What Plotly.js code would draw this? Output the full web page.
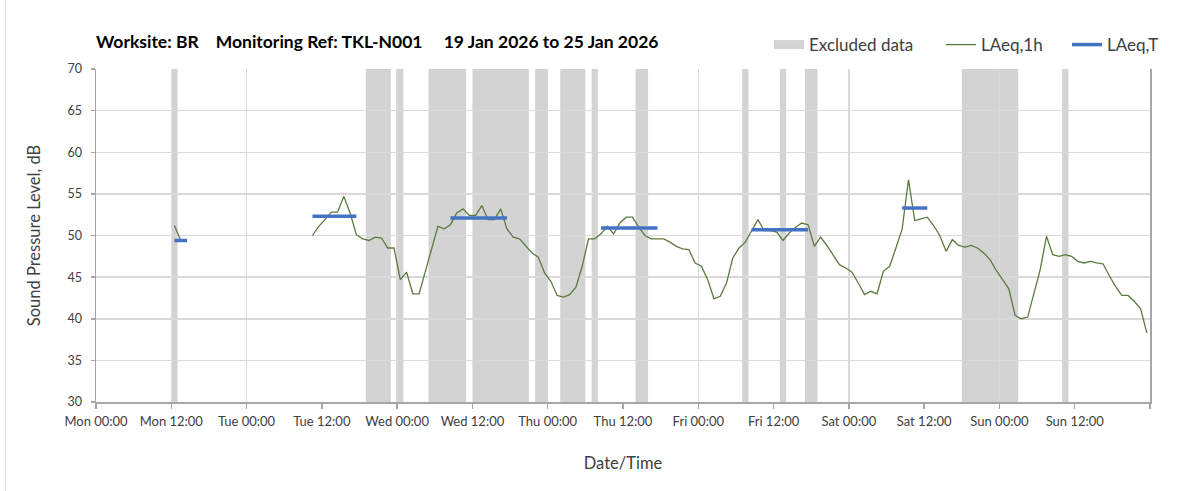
<!DOCTYPE html>
<html>
<head>
<meta charset="utf-8">
<script src="https://cdn.plot.ly/plotly-3.0.1.min.js"></script>
<style>
  html, body { margin: 0; padding: 0; background: #ffffff; }
  #chart { width: 1203px; height: 491px; }
</style>
</head>
<body>
<div id="chart"></div>
<script>
// ---------- DATA (hours since Mon 19 Jan 2026 00:00) ----------
const tickHours = [0, 12, 24, 36, 48, 60, 72, 84, 96, 108, 120, 132, 144, 156, 168];
const tickLabels = ['Mon 00:00', 'Mon 12:00', 'Tue 00:00', 'Tue 12:00', 'Wed 00:00', 'Wed 12:00',
  'Thu 00:00', 'Thu 12:00', 'Fri 00:00', 'Fri 12:00', 'Sat 00:00', 'Sat 12:00',
  'Sun 00:00', 'Sun 12:00', ''];
const gridHours = [0, 24, 48, 72, 96, 120, 144, 168];

// Excluded data periods (start / end hour)
const excludedStart = [12, 43, 48, 53, 60, 70, 74, 79, 86, 103, 109, 113, 138, 154];
const excludedEnd   = [13, 47, 49, 59, 69, 72, 78, 80, 88, 104, 110, 115, 147, 155];

// LAeq,1h — hourly values (plotted at mid-hour)
const mondayStartHour = 12.5;
const mondayValues = [51.2, 49.4, 49.4];
const mainStartHour = 34.5;
const mainValues = [
  50.0, 51.1, 51.9, 52.8, 52.8, 54.7, 52.7, 50.1, 49.6, 49.4, 49.8, 49.7, 48.5, 48.5,
  44.7, 45.6, 43.0, 43.0, 45.7, 48.4, 51.1, 50.8, 51.3, 52.7, 53.2, 52.4, 52.4, 53.6,
  51.9, 51.9, 53.2, 50.8, 49.8, 49.6, 48.8, 47.9, 47.4, 45.5, 44.5, 42.8, 42.6, 42.9,
  43.8, 46.3, 49.6, 49.6, 50.2, 51.1, 50.2, 51.5, 52.2, 52.2, 51.0, 50.0, 49.6, 49.6,
  49.6, 49.2, 48.7, 48.4, 48.3, 46.7, 46.3, 44.7, 42.4, 42.7, 44.3, 47.3, 48.5, 49.2,
  50.6, 51.9, 50.6, 50.6, 50.4, 49.4, 50.3, 51.0, 51.5, 51.3, 48.7, 49.8, 48.8, 47.7,
  46.5, 46.1, 45.6, 44.3, 42.9, 43.3, 43.0, 45.7, 46.3, 48.5, 50.8, 56.7, 51.8, 52.0,
  52.2, 51.2, 50.0, 48.1, 49.5, 48.8, 48.6, 48.8, 48.5, 47.9, 47.1, 45.8, 44.7, 43.6,
  40.4, 40.0, 40.2, 43.1, 45.9, 49.9, 47.7, 47.5, 47.7, 47.5, 46.9, 46.7, 46.9, 46.7,
  46.6, 45.2, 43.9, 42.8, 42.8, 42.1, 41.2, 38.3
];

// LAeq,T — period values
const laeqTStart = [12.5, 34.5, 56.5, 80.5, 104.5, 128.5];
const laeqTEnd   = [14.5, 41.5, 65.5, 89.5, 113.5, 132.5];
const laeqTValue = [49.4, 52.3, 52.1, 50.9, 50.7, 53.3];

// ---------- BUILD ----------
const FONT = 'Lato, "Open Sans", "Noto Sans", sans-serif';
const TXT = '#404040';

const x1h = [], y1h = [];
mondayValues.forEach((v, i) => { x1h.push(mondayStartHour + i); y1h.push(v); });
x1h.push(null); y1h.push(null);
mainValues.forEach((v, i) => { x1h.push(mainStartHour + i); y1h.push(v); });

const xT = [], yT = [];
laeqTValue.forEach((v, i) => {
  xT.push(laeqTStart[i], laeqTEnd[i], null);
  yT.push(v, v, null);
});

const shapes = excludedStart.map((s, i) => ({
  type: 'rect', xref: 'x', yref: 'paper', x0: s, x1: excludedEnd[i], y0: 0, y1: 1,
  fillcolor: '#d3d3d3', line: { width: 0 }, layer: 'below'
}));
// faint chart-area frame line on the left edge
shapes.push({
  type: 'line', xref: 'paper', yref: 'paper',
  x0: (5.5 - 96) / 1054, x1: (5.5 - 96) / 1054, y0: (69 - 491) / 333 + 1, y1: 1 + 69 / 333,
  line: { color: '#d9d9d9', width: 1 }, layer: 'below'
});

const traces = [
  { // legend entry for excluded periods (drawn as shapes)
    x: [null], y: [null], type: 'scatter', mode: 'lines', name: 'Excluded data',
    line: { color: '#d3d3d3', width: 9 }, legend: 'legend', hoverinfo: 'skip'
  },
  {
    x: x1h, y: y1h, type: 'scatter', mode: 'lines', name: 'LAeq,1h',
    line: { color: '#5b7b3e', width: 1.3 }, connectgaps: false, legend: 'legend2'
  },
  {
    x: xT, y: yT, type: 'scatter', mode: 'lines', name: 'LAeq,T',
    line: { color: '#4472c4', width: 3.5 }, connectgaps: false, legend: 'legend3'
  },
  { // carrier for the 24 h grid axis
    x: [null], y: [null], xaxis: 'x2', type: 'scatter', mode: 'lines',
    showlegend: false, hoverinfo: 'skip'
  }
];

const legendBase = {
  orientation: 'h', xanchor: 'left', yanchor: 'middle', y: 1.072,
  font: { family: FONT, size: 17, color: TXT }, bgcolor: 'rgba(0,0,0,0)', borderwidth: 0
};

const layout = {
  width: 1203, height: 491,
  margin: { l: 96, r: 53, t: 69, b: 89, pad: 0 },
  paper_bgcolor: '#ffffff', plot_bgcolor: '#ffffff',
  font: { family: FONT, size: 12, color: TXT },
  title: {
    text: 'Worksite: BR\u00a0\u00a0\u00a0 Monitoring Ref: TKL-N001\u00a0\u00a0\u00a0\u00a0 19 Jan 2026 to 25 Jan 2026',
    font: { family: FONT, size: 17.5, color: '#000000', weight: 700 },
    xref: 'paper', x: 0, xanchor: 'left', yref: 'container', y: 1 - 42 / 491, yanchor: 'middle'
  },
  xaxis: {
    range: [0, 168], tickmode: 'array', tickvals: tickHours, ticktext: tickLabels,
    showgrid: false, zeroline: false, showline: true, linecolor: '#a6a6a6', linewidth: 1.5,
    ticks: 'outside', ticklen: 5, tickcolor: '#a6a6a6', tickwidth: 1.5,
    tickfont: { family: FONT, size: 13, color: TXT }, ticklabelstandoff: 2,
    title: { text: 'Date/Time', font: { family: FONT, size: 16.5, color: TXT }, standoff: 29 },
    fixedrange: true
  },
  xaxis2: {
    overlaying: 'x', matches: 'x', range: [0, 168], tickmode: 'array', tickvals: gridHours,
    showgrid: true, gridcolor: '#d9d9d9', gridwidth: 1.5, showticklabels: false,
    ticks: '', showline: false, zeroline: false, side: 'bottom'
  },
  yaxis: {
    range: [30, 70], tickmode: 'linear', tick0: 30, dtick: 5,
    showgrid: true, gridcolor: '#d9d9d9', gridwidth: 1.5, zeroline: false,
    showline: true, linecolor: '#a6a6a6', linewidth: 1.5, mirror: true,
    ticks: 'outside', ticklen: 4, tickcolor: '#a6a6a6', tickwidth: 1.5,
    tickfont: { family: FONT, size: 12.5, color: TXT }, ticklabelstandoff: 6,
    title: { text: 'Sound Pressure Level, dB', font: { family: FONT, size: 16.5, color: TXT }, standoff: 22 },
    fixedrange: true
  },
  shapes: shapes,
  legend: Object.assign({}, legendBase, { x: (769 - 96) / 1054 }),
  legend2: Object.assign({}, legendBase, { x: (941 - 96) / 1054 }),
  legend3: Object.assign({}, legendBase, { x: (1067 - 96) / 1054 }),
  showlegend: true
};

Plotly.newPlot('chart', traces, layout, { displayModeBar: false, staticPlot: true });
</script>
</body>
</html>
